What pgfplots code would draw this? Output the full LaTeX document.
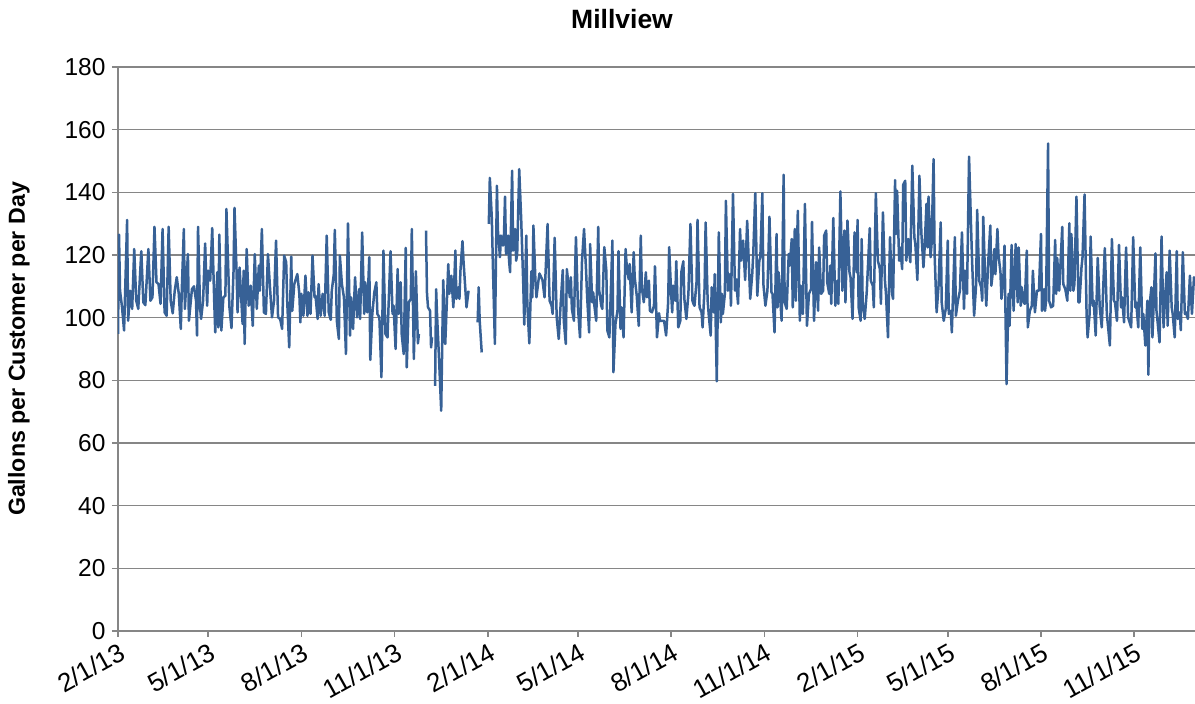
\documentclass[border=0pt]{standalone}
\usepackage{fontspec}
\setmainfont{Liberation Sans}
\usepackage{pgfplots}
\pgfplotsset{compat=1.18}
\definecolor{serie}{RGB}{55,97,150}
\definecolor{gridc}{RGB}{134,134,134}
\begin{document}
\begin{tikzpicture}
\path[use as bounding box] (-118pt,-73pt) rectangle (1077pt,631pt);
\begin{axis}[at={(0pt,0pt)}, anchor=south west, scale only axis,
  width=1077pt, height=564pt,
  xmin=0, xmax=1063, ymin=0, ymax=180,
  ytick={0,20,...,180},
  xtick={0,89,181,273,365,454,546,638,730,819,911,1003},
  xticklabels={2/1/13,5/1/13,8/1/13,11/1/13,2/1/14,5/1/14,8/1/14,11/1/14,2/1/15,5/1/15,8/1/15,11/1/15},
  axis x line*=bottom, axis y line*=left,
  ymajorgrids, grid style={gridc, line width=1.5pt},
  axis line style={gridc, line width=1.5pt},
  tick style={gridc, line width=1.5pt}, tick align=outside, major tick length=6pt,
  /pgf/number format/assume math mode=true,
  ticklabel style={font=\fontsize{24.5}{28}\selectfont},
  yticklabel style={xshift=-3pt},
  xticklabel style={font=\fontsize{26}{29}\selectfont, rotate=29, anchor=north east, inner sep=2pt, yshift=-2pt},
  title={Millview},
  title style={font=\bfseries\fontsize{26.5}{30}\selectfont, at={(0.468,1)}, anchor=center, yshift=42pt},
  ylabel={Gallons per Customer per Day},
  ylabel style={font=\bfseries\fontsize{23.2}{26}\selectfont, at={(axis description cs:-0.092,0.5)}, anchor=center},
  unbounded coords=jump, clip=true,
]
\addplot[serie, line width=2.5pt, line join=round] coordinates {
(0,94.8)(1,126.5)(2,108.6)(4,103.3)(6,95.9)(9,131.2)(10,99)(12,108.6)(14,102.8)(16,121.9)(18,105.4)(20,102.8)(23,121.2)(25,104.9)(27,104)(30,121.9)(32,105.4)(34,106.5)(36,129)(38,111.3)(40,110.7)(42,104.4)(44,128.3)(46,101.7)(48,100.6)(50,129)(52,105.4)(54,101.4)(56,108.6)(58,112.9)(60,107.6)(62,96.4)(63,109.1)(65,128.3)(66,102.8)(69,120.3)(70,99)(73,109.1)(75,110)(77,105.4)(78,94.3)(79,129)(81,103.3)(82,99.6)(84,105.4)(86,123.7)(88,103.8)
(89,115)(91,111.8)(93,128.6)(95,104.9)(96,95.3)(98,114.5)(99,96.9)(100,126.5)(102,95.9)(104,106.5)(106,107)(107,134.7)(110,103.3)(112,96.7)(114,114.5)(115,135)(117,115)(118,101.7)(120,116)(123,98)(124,115)(125,91.6)(127,121.9)(129,103.8)(131,110.2)(133,97.4)(135,120.3)(137,102.8)(139,116.6)(140,108.6)(142,128.3)(144,101.7)(146,101.2)(148,120.3)(150,109.7)(152,100.1)(154,105.4)(156,124.6)(158,100.1)(160,99.6)(162,96.4)(164,119.8)(166,117.7)(167,105.4)(169,90.5)(171,119.5)(172,102.2)(174,110.7)
(177,113.9)(179,107.6)(180,98.5)(181,107.6)(183,100.6)(185,113.4)(187,100.6)(188,108.1)(190,101.2)(192,119.8)(194,106.5)(195,107)(197,99.6)(198,110.7)(200,100.6)(202,107.6)(204,100.6)(206,126.2)(208,101.7)(210,99.3)(211,108.6)(213,113.9)(214,128)(216,99)(218,93.2)(219,119.8)(221,110.7)(223,106.5)(225,88.4)(227,130.1)(229,94.3)(230,106.5)(232,96.4)(234,112.9)(236,100.1)(238,109.1)(239,99.6)(241,127.2)(243,101.2)(244,111.3)(246,101.7)(248,119.3)(249,86.5)(251,101.2)(253,108.1)(255,111.3)(256,101.2)(258,100.1)(260,81)(262,121.4)
(264,94.8)(266,93.7)(267,103.3)(269,121.2)(271,101.2)(272,103.8)(274,90)(276,115.5)(277,101.2)(279,111.3)(280,94.8)(282,88.4)(284,122.3)(285,84.1)(287,104.9)(289,106)(290,128.3)(292,86.8)(294,114.8)(296,91.8)(297,94.8)(300,nan)(304,127.8)(305,107.6)(306,103.3)(308,102.2)(309,90.5)(310,93.7)(311,nan)(313,78.2)(314,109.1)(315,100.1)(317,86)(319,70.3)(321,112)(323,91.6)(326,117.1)(327,107.6)(329,113.4)(331,103.3)(333,121.4)(334,106)(336,109.7)(337,106)(338,115)(340,124.4)(341,118.2)(344,103.3)(346,108.6)(350,nan)
(355,98.5)(356,109.7)(357,99)(359,88.9)(362,nan)(366,129.9)(367,144.6)(369,131.5)(370,117.1)(372,91.6)(374,142.1)(375,127.8)(377,119.3)(378,126.2)(380,123)(381,126.7)(382,138.6)(383,120.3)(385,126.2)(386,118.2)(387,114.5)(389,146.9)(390,121.4)(392,128.3)(393,118.2)(394,120.3)(396,147.4)(398,131)(400,110.7)(401,97.8)(403,126.2)(404,104.4)(406,91.8)(408,114.8)(409,106.5)(410,129.4)(412,111.8)(413,106.5)(415,111.8)(416,114.1)(419,112)(421,106.5)(424,129.9)(426,105.4)(428,103.8)(429,101.2)(431,125.5)(433,100.1)(435,93.2)(437,104.9)(439,115.2)(440,99)(442,91.6)(443,115.5)
(446,106.5)(447,112.9)(448,102.8)(450,99)(452,125.7)(454,103.3)(456,93.7)(458,118.2)(460,128.3)(462,115)(463,107)(465,95.3)(466,123.5)(468,104.9)(469,108.1)(470,104.4)(472,99)(474,129)(475,108.6)(477,103.8)(478,102.8)(480,122.5)(482,115)(483,95.9)(485,93.7)(488,124.6)(489,82.6)(491,98)(493,102.2)(494,121.2)(496,96.4)(497,103.3)(499,93.7)(501,121.9)(502,117.1)(504,112.3)(505,117.1)(507,101.7)(509,120.9)(510,112.9)(512,107)(514,97.4)(516,126.2)(517,109.7)(519,104.9)(521,114.5)(522,106.5)(524,111.8)(525,102.2)(527,101.7)(529,103.8)(530,116.4)(532,93.7)
(534,101.4)(535,99)(537,99)(539,99)(541,94.3)(543,104.9)(544,122.5)(546,107.6)(547,101.7)(548,110.2)(550,105.4)(551,118)(553,96.9)(555,99)(556,114.5)(558,118)(559,106)(561,99.6)(563,107.6)(565,129.9)(567,105.4)(568,104.4)(569,103.8)(571,111.3)(572,131.2)(574,103.3)(576,101.7)(577,96.9)(579,109.7)(580,130.4)(582,105.4)(583,101.2)(585,94.3)(586,109.7)(588,101.7)(589,113.9)(591,79.7)(592,103.3)(593,127.2)(595,98.5)(596,107.6)(597,101.2)(599,107.6)(600,137.3)(602,108.6)(604,113.9)(605,103.8)(607,139.5)(609,108.6)(610,112.3)(612,104.4)(614,128.3)(615,118.2)(617,124.6)(619,112)(621,130.9)
(624,106)(626,113.9)(627,120.3)(629,139.7)(631,107)(633,118.2)(634,119.3)(636,139.7)(637,110.7)(639,103.8)(641,108.6)(643,132.2)(645,108.1)(646,107.6)(648,95.3)(650,126.7)(651,103.3)(652,114.5)(655,99)(657,145.6)(658,104.9)(660,102.8)(662,120.3)(663,116.6)(665,125.1)(666,103.3)(668,128.3)(669,105.4)(671,134.1)(673,99)(674,110.2)(676,101.2)(678,136.3)(680,97.4)(682,107.6)(684,109.1)(685,130.6)(687,99)(689,117.7)(691,102.2)(692,122.4)(694,107.6)(696,108.6)(697,126.2)(699,127.8)(700,111.3)(702,107.6)(703,116.6)(704,104.4)(706,131.8)(708,103.8)(710,111.8)
(711,104.4)(713,140.3)(715,108.6)(717,127.8)(718,104.9)(720,131)(722,114.5)(723,112.9)(725,99.6)(727,127.2)(729,114.5)(730,131.2)(731,103.3)(733,99)(734,125.1)(735,104.9)(737,99.6)(739,108.1)(742,128.6)(743,111.8)(745,110.2)(746,103.3)(748,139.7)(750,118.2)(752,115.5)(753,104.4)(755,133.6)(757,111.8)(758,107.6)(760,93.7)(762,125.7)(764,107.6)(765,106)(767,143.9)(768,126.7)(769,140.5)(771,118.2)(772,122.4)(774,115.5)(775,142.4)(777,143.7)(778,118.2)(780,125.1)(782,117.7)(784,148.5)(786,125.7)(787,123.5)(789,112)(791,145.3)(793,126.7)(795,116.1)(796,121.4)(798,136.3)(799,122.4)
(800,138.6)(802,119.3)(803,123.5)(805,150.6)(806,120.3)(808,101.7)(810,110.7)(812,130.4)(813,104.9)(815,99)(817,102.8)(819,124.6)(820,101.2)(822,102.2)(823,95.3)(826,125.7)(827,100.6)(829,105.4)(831,108.6)(833,127.2)(835,102.8)(836,115)(838,107.6)(840,151.4)(842,128.8)(843,118.2)(845,100.6)(847,110.7)(848,134.4)(850,111.8)(852,109.7)(853,105.4)(854,132.2)(856,111.3)(857,103.8)(859,118.2)(861,129.4)(862,110.2)(864,116.1)(865,121.9)(866,113.9)(868,128.3)(869,120.3)(871,114.5)(872,106)(874,113.9)(875,123)(877,78.8)(879,107.6)(880,97.4)(882,123.2)(884,102.2)(886,123.5)(888,104.9)
(889,122.4)(891,103.8)(892,109.7)(894,104.9)(895,104.4)(897,121.4)(898,96.9)(900,102.2)(902,103.8)(903,115)(905,101.7)(907,108.6)(909,108.6)(911,126.7)(912,102.2)(914,109.1)(915,102.2)(916,105.4)(918,155.6)(919,105.4)(921,103.3)(923,103.8)(925,124.8)(926,107.6)(927,119.1)(929,108.6)(932,129)(933,110.7)(935,109.1)(937,105.4)(939,130.1)(940,108.6)(941,126.7)(943,108.6)(944,110.7)(946,138.6)(948,104.9)(949,104.9)(951,116.1)(952,119.3)(954,139.3)(956,101.2)(957,93.7)(959,101.2)(960,125.9)(962,103.8)(963,105.4)(965,94.3)(967,119.1)(969,103.3)(971,96.9)(972,106)(974,122.2)(976,101.2)
(979,91.1)(981,125.1)(983,105.4)(984,104.9)(986,99)(988,123.2)(990,103.3)(991,106.5)(993,98.5)(995,122.4)(997,100.1)(998,99)(1000,96.9)(1002,125.7)(1004,103.3)(1005,104.9)(1007,96.9)(1009,122.4)(1011,96.4)(1012,101.2)(1014,91.1)(1016,105.4)(1017,81.8)(1018,103.3)(1020,109.7)(1021,93.7)(1024,120.5)(1025,102.2)(1026,99)(1028,92.1)(1030,125.9)(1032,96.9)(1033,103.3)(1035,114.5)(1036,97.4)(1038,121.4)(1040,103.3)(1041,101.2)(1043,93.7)(1045,121.2)(1046,99.6)(1048,101.7)(1049,96)(1051,120.9)(1053,101.2)(1054,101.7)(1056,99.6)(1058,113.4)(1060,101.2)(1062,112.9)(1063,110.7)
};
\end{axis}
\end{tikzpicture}
\end{document}
